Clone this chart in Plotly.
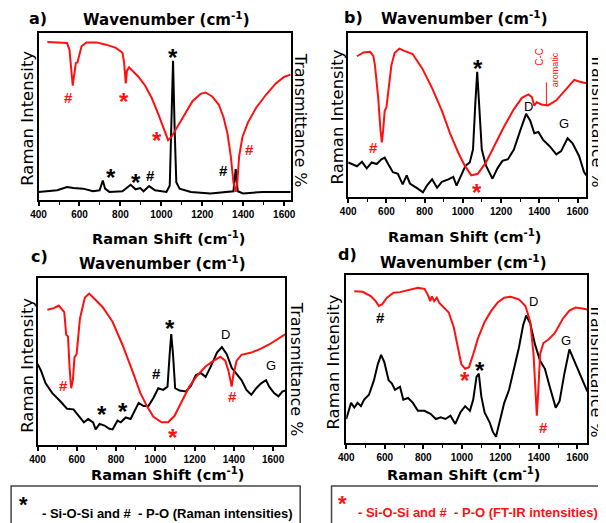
import plotly.graph_objects as go

# the page body adds an 8px margin, so the figure is drawn 8px in from the corner
PAGE_W, PAGE_H = 606, 523
OFF = 8
W, H = PAGE_W - OFF, PAGE_H - OFF

# ---------------- data (normalised 0..1 intensities) -------------
A_IR_X = [443, 539, 551, 563, 567, 575, 582, 590, 599, 610, 634, 682, 730, 778, 810, 818, 826, 832, 842, 857,
          889, 921, 953, 985, 1009, 1033, 1049, 1073, 1113, 1152, 1192, 1216, 1248, 1280, 1304, 1323, 1339,
          1352, 1363, 1371, 1380, 1396, 1423, 1463, 1511, 1559, 1599, 1631]
A_IR_Y = [0.944, 0.938, 0.898, 0.719, 0.675, 0.749, 0.814, 0.818, 0.858, 0.918, 0.942, 0.942, 0.928, 0.908,
          0.878, 0.818, 0.689, 0.768, 0.788, 0.768, 0.729, 0.675, 0.599, 0.499, 0.419, 0.339, 0.359, 0.409,
          0.499, 0.579, 0.625, 0.633, 0.609, 0.559, 0.479, 0.379, 0.240, 0.080, 0.020, 0.080, 0.240, 0.359,
          0.449, 0.539, 0.619, 0.689, 0.729, 0.743]
A_RA_X = [400, 491, 539, 571, 618, 666, 698, 714, 725, 746, 810, 850, 874, 897, 913, 940, 969, 1025, 1041,
          1049, 1057, 1065, 1073, 1089, 1144, 1240, 1320, 1352, 1363, 1373, 1399, 1495, 1631]
A_RA_Y = [0.02, 0.03, 0.05, 0.044, 0.04, 0.024, 0.03, 0.09, 0.04, 0.02, 0.024, 0.064, 0.036, 0.044, 0.024,
          0.056, 0.03, 0.02, 0.06, 0.40, 0.828, 0.40, 0.08, 0.04, 0.02, 0.01, 0.02, 0.024, 0.16, 0.024, 0.01,
          0.02, 0.02]

B_IR_X = [446, 480, 515, 532, 540, 557, 569, 576, 583, 591, 600, 614, 626, 643, 668, 694, 737, 788, 839, 890,
          933, 976, 1010, 1044, 1078, 1121, 1164, 1215, 1267, 1309, 1343, 1361, 1374, 1386, 1412, 1446, 1489,
          1540, 1583, 1608, 1646]
B_IR_Y = [0.854, 0.878, 0.882, 0.854, 0.797, 0.593, 0.390, 0.313, 0.390, 0.512, 0.533, 0.675, 0.797, 0.874,
          0.902, 0.888, 0.868, 0.776, 0.654, 0.512, 0.370, 0.248, 0.167, 0.106, 0.116, 0.187, 0.289, 0.411,
          0.522, 0.593, 0.614, 0.598, 0.543, 0.565, 0.551, 0.545, 0.577, 0.644, 0.706, 0.695, 0.685]
B_RA_X = [400, 420, 446, 472, 497, 523, 549, 574, 591, 609, 634, 660, 685, 706, 723, 762, 791, 814, 839, 865,
          890, 924, 950, 967, 990, 1014, 1036, 1053, 1065, 1075, 1085, 1099, 1121, 1155, 1181, 1207, 1236,
          1267, 1301, 1331, 1352, 1374, 1395, 1420, 1454, 1489, 1514, 1548, 1574, 1608, 1634, 1646]
B_RA_Y = [0.187, 0.177, 0.163, 0.191, 0.150, 0.187, 0.177, 0.207, 0.217, 0.177, 0.126, 0.116, 0.049, 0.106,
          0.055, 0.024, 0.0, 0.045, 0.081, 0.028, 0.065, 0.081, 0.096, 0.041, 0.106, 0.167, 0.187, 0.268,
          0.553, 0.756, 0.553, 0.268, 0.167, 0.085, 0.150, 0.197, 0.207, 0.268, 0.390, 0.492, 0.451, 0.370,
          0.378, 0.329, 0.289, 0.238, 0.258, 0.339, 0.307, 0.228, 0.126, 0.106]

C_IR_X = [450, 483, 508, 520, 536, 546, 555, 563, 571, 580, 588, 599, 616, 641, 663, 691, 732, 782, 832, 882,
          924, 957, 990, 1032, 1065, 1098, 1131, 1173, 1214, 1256, 1297, 1331, 1356, 1372, 1389, 1397, 1414,
          1439, 1489, 1530, 1580, 1622, 1663]
C_IR_Y = [0.804, 0.814, 0.83, 0.81, 0.79, 0.65, 0.64, 0.45, 0.32, 0.37, 0.51, 0.53, 0.75, 0.88, 0.904, 0.87,
          0.82, 0.73, 0.59, 0.43, 0.29, 0.21, 0.144, 0.11, 0.11, 0.15, 0.23, 0.33, 0.40, 0.454, 0.49, 0.514,
          0.49, 0.43, 0.33, 0.40, 0.49, 0.526, 0.54, 0.56, 0.59, 0.62, 0.654]
C_RA_X = [400, 417, 441, 475, 516, 550, 583, 608, 636, 658, 683, 696, 716, 741, 766, 782, 807, 824, 849, 874,
          899, 915, 940, 965, 990, 1015, 1040, 1062, 1073, 1081, 1090, 1101, 1123, 1156, 1181, 1206, 1231,
          1256, 1281, 1314, 1339, 1364, 1389, 1414, 1439, 1464, 1489, 1514, 1539, 1564, 1580, 1605, 1627,
          1647, 1663]
C_RA_Y = [0.47, 0.43, 0.35, 0.29, 0.24, 0.194, 0.19, 0.15, 0.11, 0.13, 0.11, 0.066, 0.10, 0.09, 0.07, 0.066,
          0.12, 0.11, 0.14, 0.13, 0.19, 0.23, 0.21, 0.21, 0.26, 0.32, 0.31, 0.33, 0.53, 0.654, 0.53, 0.32,
          0.306, 0.30, 0.334, 0.40, 0.414, 0.39, 0.45, 0.54, 0.574, 0.53, 0.446, 0.41, 0.37, 0.31, 0.28, 0.32,
          0.35, 0.37, 0.33, 0.29, 0.27, 0.30, 0.306]

D_IR_X = [442, 485, 527, 552, 569, 586, 611, 645, 679, 730, 772, 806, 823, 836, 844, 856, 870, 882, 907, 932,
          958, 975, 997, 1017, 1037, 1059, 1084, 1118, 1152, 1186, 1220, 1253, 1296, 1330, 1355, 1372, 1382,
          1389, 1396, 1406, 1423, 1448, 1482, 1524, 1558, 1591, 1625, 1651]
D_IR_Y = [0.90, 0.897, 0.871, 0.841, 0.81, 0.82, 0.861, 0.891, 0.895, 0.911, 0.921, 0.915, 0.88, 0.84, 0.87,
          0.84, 0.861, 0.83, 0.80, 0.77, 0.68, 0.573, 0.454, 0.425, 0.435, 0.514, 0.613, 0.712, 0.78, 0.831,
          0.861, 0.867, 0.851, 0.81, 0.712, 0.514, 0.256, 0.137, 0.276, 0.514, 0.583, 0.603, 0.643, 0.732,
          0.782, 0.80, 0.794, 0.788]
D_RA_X = [400, 425, 442, 459, 476, 493, 518, 544, 564, 581, 598, 620, 637, 653, 679, 696, 721, 746, 772, 806,
          839, 865, 890, 915, 941, 966, 992, 1017, 1042, 1059, 1076, 1088, 1101, 1118, 1144, 1161, 1177, 1194,
          1220, 1245, 1270, 1296, 1318, 1334, 1355, 1380, 1406, 1431, 1456, 1487, 1507, 1532, 1558, 1583,
          1617, 1651]
D_RA_Y = [0.117, 0.216, 0.187, 0.216, 0.196, 0.236, 0.266, 0.355, 0.454, 0.51, 0.464, 0.355, 0.335, 0.296,
          0.315, 0.236, 0.246, 0.216, 0.167, 0.167, 0.147, 0.117, 0.127, 0.117, 0.137, 0.087, 0.157, 0.196,
          0.167, 0.236, 0.375, 0.395, 0.256, 0.157, 0.097, 0.038, 0.008, 0.097, 0.216, 0.296, 0.415, 0.554,
          0.692, 0.752, 0.702, 0.573, 0.474, 0.425, 0.315, 0.187, 0.226, 0.395, 0.544, 0.474, 0.375, 0.286]

X_TICKS = [400, 600, 800, 1000, 1200, 1400, 1600]
PANEL_LABELS = ["a)", "b)", "c)", "d)"]

# peak markers: (text, x, y, colour)
A_MARKS = [("#", 547, 0.60, "red"), ("*", 818, 0.61, "red"), ("*", 977, 0.37, "red"), ("#", 1431, 0.28, "red"),
           ("*", 1057, 0.88, "black"), ("*", 754, 0.14, "black"), ("*", 878, 0.11, "black"),
           ("#", 945, 0.12, "black"), ("#", 1304, 0.15, "black")]
B_MARKS = [("#", 532, 0.28, "red"), ("*", 1073, 0.03, "red"), ("*", 1078, 0.81, "black"),
           ("D", 1343, 0.54, "black"), ("G", 1531, 0.43, "black")]
C_MARKS = [("#", 533, 0.34, "red"), ("*", 1090, 0.05, "red"), ("#", 1394, 0.27, "red"),
           ("*", 1073, 0.72, "black"), ("#", 1007, 0.41, "black"), ("*", 727, 0.19, "black"),
           ("*", 837, 0.21, "black"), ("D", 1356, 0.65, "black"), ("G", 1588, 0.46, "black")]
D_MARKS = [("#", 577, 0.74, "black"), ("*", 1017, 0.385, "red"), ("*", 1093, 0.444, "black"),
           ("D", 1372, 0.84, "black"), ("G", 1541, 0.60, "black"), ("#", 1423, 0.067, "red")]


# ---------------- layout geometry (page pixels) -------------
def px(x):
    return (x - OFF) / W


def py(y):
    return 1 - (y - OFF) / H


PANELS = [
    dict(box=(31, 289, 33, 200), xmax=1635, ir=(A_IR_X, A_IR_Y), ra=(A_RA_X, A_RA_Y), marks=A_MARKS,
         lab=(30, 19), wav=(162, 19), shift=(164, 238), ri=(19, 118), tr=(298, 120)),
    dict(box=(347, 590, 33, 197), xmax=1646, ir=(B_IR_X, B_IR_Y), ra=(B_RA_X, B_RA_Y), marks=B_MARKS,
         lab=(352, 18), wav=(466, 18), shift=(466, 236), ri=(336, 117), tr=(601, 120)),
    dict(box=(30, 283, 278, 445), xmax=1663, ir=(C_IR_X, C_IR_Y), ra=(C_RA_X, C_RA_Y), marks=C_MARKS,
         lab=(32, 257), wav=(158, 263), shift=(163, 474), ri=(19, 365), tr=(295, 369)),
    dict(box=(345, 591, 275, 443), xmax=1651, ir=(D_IR_X, D_IR_Y), ra=(D_RA_X, D_RA_Y), marks=D_MARKS,
         lab=(346, 254), wav=(465, 262), shift=(465, 474), ri=(332, 362), tr=(601, 370)),
]

FONT = "Liberation Sans, Arial, sans-serif"
TFONT = "DejaVu Sans, Liberation Sans, sans-serif"

fig = go.Figure()
layout = dict(width=W, height=H, margin=dict(l=0, r=0, t=0, b=0), paper_bgcolor="white",
              plot_bgcolor="white", showlegend=False)
annotations = []
shapes = []


def ptext(text, x, y, size, color="black", bold=False, angle=0, xanchor="center", family=FONT):
    f = dict(family=family, size=size, color=color)
    if bold:
        f["weight"] = "bold"
    return dict(text=text, x=px(x), y=py(y), xref="paper", yref="paper", showarrow=False,
                xanchor=xanchor, yanchor="middle", textangle=angle, font=f)


for i, p in enumerate(PANELS):
    n = i + 1
    xa = f"x{n}"
    ya_l = f"y{2 * n - 1}"
    ya_r = f"y{2 * n}"
    l, r, t, b = p["box"]
    fig.add_trace(go.Scatter(x=p["ra"][0], y=p["ra"][1], mode="lines", line=dict(color="black", width=2),
                             xaxis=xa, yaxis=ya_l, hoverinfo="skip"))
    fig.add_trace(go.Scatter(x=p["ir"][0], y=p["ir"][1], mode="lines", line=dict(color="#ff1010", width=2),
                             xaxis=xa, yaxis=ya_r, hoverinfo="skip"))
    xkey = "xaxis" if n == 1 else f"xaxis{n}"
    ylkey = f"yaxis{2 * n - 1}" if n > 1 else "yaxis"
    yrkey = f"yaxis{2 * n}"
    layout[xkey] = dict(domain=[px(l), px(r)], anchor=ya_l, range=[400, p["xmax"]], tickvals=X_TICKS,
                        ticks="outside", ticklen=4, tickwidth=1.5, tickcolor="black",
                        minor=dict(dtick=100, tick0=400, ticks="outside", ticklen=3, tickwidth=1.2,
                                   tickcolor="black"),
                        showline=True, linecolor="black", linewidth=2, mirror=True, showgrid=False,
                        zeroline=False, tickfont=dict(family=FONT, size=10, color="black", weight="bold"))
    layout[ylkey] = dict(domain=[py(b), py(t)], anchor=xa, range=[-0.03, 1.0], showticklabels=False,
                         ticks="", showline=True, linecolor="black", linewidth=2, mirror=True,
                         showgrid=False, zeroline=False)
    layout[yrkey] = dict(domain=[py(b), py(t)], anchor=xa, overlaying=ya_l, side="right", range=[-0.03, 1.0],
                         showticklabels=False, ticks="", showline=False, showgrid=False, zeroline=False)

    annotations.append(ptext(PANEL_LABELS[i], p["lab"][0], p["lab"][1], 16, bold=True, family=TFONT))
    annotations.append(ptext("Wavenumber (cm<sup>-1</sup>)", p["wav"][0], p["wav"][1], 15, bold=True,
                             family=TFONT))
    annotations.append(ptext("Raman Shift (cm<sup>-1</sup>)", p["shift"][0], p["shift"][1], 14.5, bold=True,
                             family=TFONT))
    annotations.append(ptext("Raman Intensity", p["ri"][0], p["ri"][1], 16.5, angle=-90, family=TFONT))
    annotations.append(ptext("Transmittance %", p["tr"][0], p["tr"][1], 16, angle=90, family=TFONT))
    for txt, mx, my, col in p["marks"]:
        c = "#ff1010" if col == "red" else "black"
        if txt == "*":
            f = dict(family=FONT, size=24, color=c, weight="bold")
            yshift = -5
        elif txt == "#":
            f = dict(family=FONT, size=15, color=c, weight="bold")
            yshift = 0
        else:
            f = dict(family=FONT, size=13, color=c)
            yshift = 0
        annotations.append(dict(text=txt, x=mx, y=my, xref=xa, yref=ya_r, showarrow=False, font=f,
                                xanchor="center", yanchor="middle", yshift=yshift))

# C-C aromatic label in panel b
annotations.append(dict(text="C-C", x=1403, y=0.85, xref="x2", yref="y4", showarrow=False, textangle=-90,
                        xanchor="center", yanchor="middle", font=dict(family=FONT, size=10, color="#ff1010")))
annotations.append(dict(text="aromatic", x=1480, y=0.77, xref="x2", yref="y4", showarrow=False,
                        textangle=-90, xanchor="center", yanchor="middle",
                        font=dict(family=FONT, size=9, color="#ff1010")))
shapes.append(dict(type="line", x0=1437, x1=1437, y0=0.545, y1=0.69, xref="x2", yref="y4",
                   line=dict(color="#ff1010", width=1)))

# legend boxes
shapes.append(dict(type="rect", x0=px(3), x1=px(298), y0=py(540), y1=py(486), xref="paper", yref="paper",
                   line=dict(color="#444", width=1.5)))
shapes.append(dict(type="rect", x0=px(330), x1=px(630), y0=py(540), y1=py(486), xref="paper", yref="paper",
                   line=dict(color="#444", width=1.5)))
annotations.append(ptext("*", 16, 504, 22, bold=True))
annotations.append(ptext("- Si-O-Si and #  - P-O (Raman intensities)", 32, 513, 13, bold=True,
                         xanchor="left"))
annotations.append(ptext("*", 341, 503, 22, color="#ff1010", bold=True))
annotations.append(ptext("- Si-O-Si and #  - P-O (FT-IR intensities)", 355, 512, 13, color="#ff1010",
                         bold=True, xanchor="left"))

layout["annotations"] = annotations
layout["shapes"] = shapes
fig.update_layout(**layout)
fig.write_html("out.html")
